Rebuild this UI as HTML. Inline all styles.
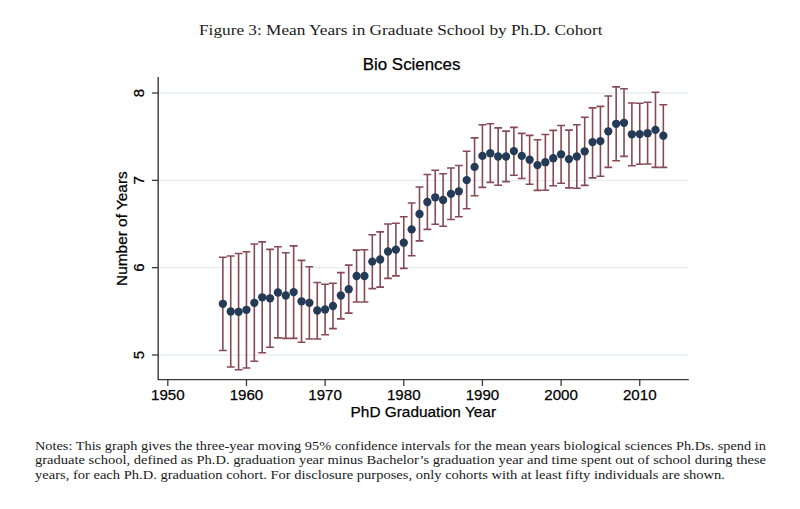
<!DOCTYPE html>
<html><head><meta charset="utf-8"><style>
html,body{margin:0;padding:0;background:#fff;}
body{width:800px;height:509px;position:relative;overflow:hidden;}
.cap{position:absolute;left:199px;top:20.8px;font-family:"Liberation Serif",serif;font-size:15.2px;line-height:18px;color:#1a1a1a;white-space:nowrap;}
.cap span{display:inline-block;transform-origin:0 0;transform:scaleX(1.136);}
.notes{position:absolute;left:35px;top:438.8px;font-family:"Liberation Serif",serif;font-size:13.1px;line-height:14.45px;color:#1a1a1a;}
.notes span{display:block;white-space:nowrap;transform-origin:0 0;height:14.4px;}
.l1{transform:scaleX(1.094);}
.l2{transform:scaleX(1.108);}
.l3{transform:scaleX(1.109);}
</style></head><body>
<div class="cap"><span>Figure 3: Mean Years in Graduate School by Ph.D. Cohort</span></div>
<svg width="800" height="509" viewBox="0 0 800 509" style="position:absolute;left:0;top:0"><line x1="159.00" y1="355.00" x2="687.80" y2="355.00" stroke="#e8eeee" stroke-width="1.4"/><line x1="159.00" y1="267.67" x2="687.80" y2="267.67" stroke="#e8eeee" stroke-width="1.4"/><line x1="159.00" y1="180.33" x2="687.80" y2="180.33" stroke="#e8eeee" stroke-width="1.4"/><line x1="159.00" y1="93.00" x2="687.80" y2="93.00" stroke="#e8eeee" stroke-width="1.4"/><path d="M222.86 257.20V350.50M218.96 257.20H226.76M218.96 350.50H226.76" stroke="#874a54" stroke-width="1.6" fill="none"/><path d="M230.73 256.00V367.00M226.83 256.00H234.63M226.83 367.00H234.63" stroke="#874a54" stroke-width="1.6" fill="none"/><path d="M238.59 253.50V369.70M234.69 253.50H242.49M234.69 369.70H242.49" stroke="#874a54" stroke-width="1.6" fill="none"/><path d="M246.46 251.80V368.00M242.56 251.80H250.36M242.56 368.00H250.36" stroke="#874a54" stroke-width="1.6" fill="none"/><path d="M254.32 244.00V361.30M250.42 244.00H258.22M250.42 361.30H258.22" stroke="#874a54" stroke-width="1.6" fill="none"/><path d="M262.19 241.90V352.80M258.29 241.90H266.09M258.29 352.80H266.09" stroke="#874a54" stroke-width="1.6" fill="none"/><path d="M270.06 249.40V347.20M266.16 249.40H273.96M266.16 347.20H273.96" stroke="#874a54" stroke-width="1.6" fill="none"/><path d="M277.92 246.70V337.90M274.02 246.70H281.82M274.02 337.90H281.82" stroke="#874a54" stroke-width="1.6" fill="none"/><path d="M285.79 252.80V338.40M281.89 252.80H289.69M281.89 338.40H289.69" stroke="#874a54" stroke-width="1.6" fill="none"/><path d="M293.65 245.90V338.40M289.75 245.90H297.55M289.75 338.40H297.55" stroke="#874a54" stroke-width="1.6" fill="none"/><path d="M301.52 260.40V342.30M297.62 260.40H305.42M297.62 342.30H305.42" stroke="#874a54" stroke-width="1.6" fill="none"/><path d="M309.38 266.70V339.00M305.49 266.70H313.28M305.49 339.00H313.28" stroke="#874a54" stroke-width="1.6" fill="none"/><path d="M317.25 282.50V339.00M313.35 282.50H321.15M313.35 339.00H321.15" stroke="#874a54" stroke-width="1.6" fill="none"/><path d="M325.12 284.20V334.80M321.22 284.20H329.02M321.22 334.80H329.02" stroke="#874a54" stroke-width="1.6" fill="none"/><path d="M332.98 283.30V328.60M329.08 283.30H336.88M329.08 328.60H336.88" stroke="#874a54" stroke-width="1.6" fill="none"/><path d="M340.85 272.60V318.90M336.95 272.60H344.75M336.95 318.90H344.75" stroke="#874a54" stroke-width="1.6" fill="none"/><path d="M348.71 265.10V313.10M344.81 265.10H352.61M344.81 313.10H352.61" stroke="#874a54" stroke-width="1.6" fill="none"/><path d="M356.58 250.10V302.00M352.68 250.10H360.48M352.68 302.00H360.48" stroke="#874a54" stroke-width="1.6" fill="none"/><path d="M364.45 249.70V302.00M360.55 249.70H368.35M360.55 302.00H368.35" stroke="#874a54" stroke-width="1.6" fill="none"/><path d="M372.31 234.70V288.60M368.41 234.70H376.21M368.41 288.60H376.21" stroke="#874a54" stroke-width="1.6" fill="none"/><path d="M380.18 231.90V287.10M376.28 231.90H384.08M376.28 287.10H384.08" stroke="#874a54" stroke-width="1.6" fill="none"/><path d="M388.04 224.00V278.40M384.14 224.00H391.94M384.14 278.40H391.94" stroke="#874a54" stroke-width="1.6" fill="none"/><path d="M395.91 223.30V275.90M392.01 223.30H399.81M392.01 275.90H399.81" stroke="#874a54" stroke-width="1.6" fill="none"/><path d="M403.77 216.70V268.40M399.88 216.70H407.67M399.88 268.40H407.67" stroke="#874a54" stroke-width="1.6" fill="none"/><path d="M411.64 203.00V255.80M407.74 203.00H415.54M407.74 255.80H415.54" stroke="#874a54" stroke-width="1.6" fill="none"/><path d="M419.51 187.00V240.90M415.61 187.00H423.41M415.61 240.90H423.41" stroke="#874a54" stroke-width="1.6" fill="none"/><path d="M427.37 174.50V229.40M423.47 174.50H431.27M423.47 229.40H431.27" stroke="#874a54" stroke-width="1.6" fill="none"/><path d="M435.24 170.30V224.30M431.34 170.30H439.14M431.34 224.30H439.14" stroke="#874a54" stroke-width="1.6" fill="none"/><path d="M443.10 173.70V226.20M439.20 173.70H447.00M439.20 226.20H447.00" stroke="#874a54" stroke-width="1.6" fill="none"/><path d="M450.97 168.00V219.50M447.07 168.00H454.87M447.07 219.50H454.87" stroke="#874a54" stroke-width="1.6" fill="none"/><path d="M458.84 165.50V216.80M454.94 165.50H462.74M454.94 216.80H462.74" stroke="#874a54" stroke-width="1.6" fill="none"/><path d="M466.70 151.30V208.80M462.80 151.30H470.60M462.80 208.80H470.60" stroke="#874a54" stroke-width="1.6" fill="none"/><path d="M474.57 137.90V195.80M470.67 137.90H478.47M470.67 195.80H478.47" stroke="#874a54" stroke-width="1.6" fill="none"/><path d="M482.43 124.70V187.40M478.53 124.70H486.33M478.53 187.40H486.33" stroke="#874a54" stroke-width="1.6" fill="none"/><path d="M490.30 123.80V182.40M486.40 123.80H494.20M486.40 182.40H494.20" stroke="#874a54" stroke-width="1.6" fill="none"/><path d="M498.16 127.90V185.20M494.26 127.90H502.06M494.26 185.20H502.06" stroke="#874a54" stroke-width="1.6" fill="none"/><path d="M506.03 131.10V181.60M502.13 131.10H509.93M502.13 181.60H509.93" stroke="#874a54" stroke-width="1.6" fill="none"/><path d="M513.90 127.40V175.30M510.00 127.40H517.80M510.00 175.30H517.80" stroke="#874a54" stroke-width="1.6" fill="none"/><path d="M521.76 133.40V178.50M517.86 133.40H525.66M517.86 178.50H525.66" stroke="#874a54" stroke-width="1.6" fill="none"/><path d="M529.63 135.40V184.20M525.73 135.40H533.53M525.73 184.20H533.53" stroke="#874a54" stroke-width="1.6" fill="none"/><path d="M537.49 139.80V190.40M533.59 139.80H541.39M533.59 190.40H541.39" stroke="#874a54" stroke-width="1.6" fill="none"/><path d="M545.36 134.50V190.20M541.46 134.50H549.26M541.46 190.20H549.26" stroke="#874a54" stroke-width="1.6" fill="none"/><path d="M553.23 130.40V185.80M549.33 130.40H557.13M549.33 185.80H557.13" stroke="#874a54" stroke-width="1.6" fill="none"/><path d="M561.09 125.50V183.30M557.19 125.50H564.99M557.19 183.30H564.99" stroke="#874a54" stroke-width="1.6" fill="none"/><path d="M568.96 130.10V187.90M565.06 130.10H572.86M565.06 187.90H572.86" stroke="#874a54" stroke-width="1.6" fill="none"/><path d="M576.82 124.70V188.30M572.92 124.70H580.72M572.92 188.30H580.72" stroke="#874a54" stroke-width="1.6" fill="none"/><path d="M584.69 117.30V185.40M580.79 117.30H588.59M580.79 185.40H588.59" stroke="#874a54" stroke-width="1.6" fill="none"/><path d="M592.56 107.90V177.90M588.66 107.90H596.46M588.66 177.90H596.46" stroke="#874a54" stroke-width="1.6" fill="none"/><path d="M600.42 106.40V176.20M596.52 106.40H604.32M596.52 176.20H604.32" stroke="#874a54" stroke-width="1.6" fill="none"/><path d="M608.29 96.00V167.40M604.39 96.00H612.19M604.39 167.40H612.19" stroke="#874a54" stroke-width="1.6" fill="none"/><path d="M616.15 86.90V160.80M612.25 86.90H620.05M612.25 160.80H620.05" stroke="#874a54" stroke-width="1.6" fill="none"/><path d="M624.02 88.80V156.40M620.12 88.80H627.92M620.12 156.40H627.92" stroke="#874a54" stroke-width="1.6" fill="none"/><path d="M631.88 103.00V165.80M627.98 103.00H635.78M627.98 165.80H635.78" stroke="#874a54" stroke-width="1.6" fill="none"/><path d="M639.75 103.30V164.20M635.85 103.30H643.65M635.85 164.20H643.65" stroke="#874a54" stroke-width="1.6" fill="none"/><path d="M647.62 102.30V164.00M643.72 102.30H651.52M643.72 164.00H651.52" stroke="#874a54" stroke-width="1.6" fill="none"/><path d="M655.48 92.30V167.40M651.58 92.30H659.38M651.58 167.40H659.38" stroke="#874a54" stroke-width="1.6" fill="none"/><path d="M663.35 104.80V167.40M659.45 104.80H667.25M659.45 167.40H667.25" stroke="#874a54" stroke-width="1.6" fill="none"/><circle cx="222.86" cy="303.80" r="4.15" fill="#253a57"/><circle cx="230.73" cy="311.50" r="4.15" fill="#253a57"/><circle cx="238.59" cy="311.80" r="4.15" fill="#253a57"/><circle cx="246.46" cy="309.80" r="4.15" fill="#253a57"/><circle cx="254.32" cy="302.80" r="4.15" fill="#253a57"/><circle cx="262.19" cy="297.30" r="4.15" fill="#253a57"/><circle cx="270.06" cy="298.30" r="4.15" fill="#253a57"/><circle cx="277.92" cy="292.50" r="4.15" fill="#253a57"/><circle cx="285.79" cy="295.50" r="4.15" fill="#253a57"/><circle cx="293.65" cy="292.10" r="4.15" fill="#253a57"/><circle cx="301.52" cy="301.30" r="4.15" fill="#253a57"/><circle cx="309.38" cy="302.80" r="4.15" fill="#253a57"/><circle cx="317.25" cy="310.50" r="4.15" fill="#253a57"/><circle cx="325.12" cy="309.50" r="4.15" fill="#253a57"/><circle cx="332.98" cy="306.00" r="4.15" fill="#253a57"/><circle cx="340.85" cy="295.50" r="4.15" fill="#253a57"/><circle cx="348.71" cy="289.20" r="4.15" fill="#253a57"/><circle cx="356.58" cy="276.00" r="4.15" fill="#253a57"/><circle cx="364.45" cy="276.00" r="4.15" fill="#253a57"/><circle cx="372.31" cy="261.60" r="4.15" fill="#253a57"/><circle cx="380.18" cy="259.50" r="4.15" fill="#253a57"/><circle cx="388.04" cy="251.50" r="4.15" fill="#253a57"/><circle cx="395.91" cy="249.60" r="4.15" fill="#253a57"/><circle cx="403.77" cy="242.70" r="4.15" fill="#253a57"/><circle cx="411.64" cy="229.40" r="4.15" fill="#253a57"/><circle cx="419.51" cy="214.00" r="4.15" fill="#253a57"/><circle cx="427.37" cy="202.00" r="4.15" fill="#253a57"/><circle cx="435.24" cy="197.30" r="4.15" fill="#253a57"/><circle cx="443.10" cy="200.00" r="4.15" fill="#253a57"/><circle cx="450.97" cy="193.90" r="4.15" fill="#253a57"/><circle cx="458.84" cy="191.30" r="4.15" fill="#253a57"/><circle cx="466.70" cy="180.10" r="4.15" fill="#253a57"/><circle cx="474.57" cy="166.90" r="4.15" fill="#253a57"/><circle cx="482.43" cy="155.90" r="4.15" fill="#253a57"/><circle cx="490.30" cy="153.20" r="4.15" fill="#253a57"/><circle cx="498.16" cy="156.50" r="4.15" fill="#253a57"/><circle cx="506.03" cy="156.50" r="4.15" fill="#253a57"/><circle cx="513.90" cy="151.10" r="4.15" fill="#253a57"/><circle cx="521.76" cy="155.90" r="4.15" fill="#253a57"/><circle cx="529.63" cy="159.70" r="4.15" fill="#253a57"/><circle cx="537.49" cy="165.10" r="4.15" fill="#253a57"/><circle cx="545.36" cy="162.20" r="4.15" fill="#253a57"/><circle cx="553.23" cy="158.20" r="4.15" fill="#253a57"/><circle cx="561.09" cy="154.30" r="4.15" fill="#253a57"/><circle cx="568.96" cy="159.10" r="4.15" fill="#253a57"/><circle cx="576.82" cy="156.50" r="4.15" fill="#253a57"/><circle cx="584.69" cy="151.30" r="4.15" fill="#253a57"/><circle cx="592.56" cy="142.10" r="4.15" fill="#253a57"/><circle cx="600.42" cy="141.10" r="4.15" fill="#253a57"/><circle cx="608.29" cy="131.30" r="4.15" fill="#253a57"/><circle cx="616.15" cy="123.80" r="4.15" fill="#253a57"/><circle cx="624.02" cy="122.80" r="4.15" fill="#253a57"/><circle cx="631.88" cy="134.30" r="4.15" fill="#253a57"/><circle cx="639.75" cy="134.10" r="4.15" fill="#253a57"/><circle cx="647.62" cy="133.20" r="4.15" fill="#253a57"/><circle cx="655.48" cy="129.90" r="4.15" fill="#253a57"/><circle cx="663.35" cy="135.70" r="4.15" fill="#253a57"/><path d="M158.20 77.00V379.60H688.80" stroke="#3a3a3a" stroke-width="1.4" fill="none"/><line x1="151.90" y1="355.00" x2="158.20" y2="355.00" stroke="#3a3a3a" stroke-width="1.3"/><text x="0" y="0" transform="translate(144.2 355.00) rotate(-90)" text-anchor="middle" font-family="Liberation Sans" font-size="15.1" fill="#000" stroke="#000" stroke-width="0.25">5</text><line x1="151.90" y1="267.67" x2="158.20" y2="267.67" stroke="#3a3a3a" stroke-width="1.3"/><text x="0" y="0" transform="translate(144.2 267.67) rotate(-90)" text-anchor="middle" font-family="Liberation Sans" font-size="15.1" fill="#000" stroke="#000" stroke-width="0.25">6</text><line x1="151.90" y1="180.33" x2="158.20" y2="180.33" stroke="#3a3a3a" stroke-width="1.3"/><text x="0" y="0" transform="translate(144.2 180.33) rotate(-90)" text-anchor="middle" font-family="Liberation Sans" font-size="15.1" fill="#000" stroke="#000" stroke-width="0.25">7</text><line x1="151.90" y1="93.00" x2="158.20" y2="93.00" stroke="#3a3a3a" stroke-width="1.3"/><text x="0" y="0" transform="translate(144.2 93.00) rotate(-90)" text-anchor="middle" font-family="Liberation Sans" font-size="15.1" fill="#000" stroke="#000" stroke-width="0.25">8</text><line x1="167.80" y1="379.60" x2="167.80" y2="386.00" stroke="#3a3a3a" stroke-width="1.3"/><text x="167.80" y="400.1" text-anchor="middle" font-family="Liberation Sans" font-size="15.1" fill="#000" stroke="#000" stroke-width="0.25">1950</text><line x1="246.46" y1="379.60" x2="246.46" y2="386.00" stroke="#3a3a3a" stroke-width="1.3"/><text x="246.46" y="400.1" text-anchor="middle" font-family="Liberation Sans" font-size="15.1" fill="#000" stroke="#000" stroke-width="0.25">1960</text><line x1="325.12" y1="379.60" x2="325.12" y2="386.00" stroke="#3a3a3a" stroke-width="1.3"/><text x="325.12" y="400.1" text-anchor="middle" font-family="Liberation Sans" font-size="15.1" fill="#000" stroke="#000" stroke-width="0.25">1970</text><line x1="403.77" y1="379.60" x2="403.77" y2="386.00" stroke="#3a3a3a" stroke-width="1.3"/><text x="403.77" y="400.1" text-anchor="middle" font-family="Liberation Sans" font-size="15.1" fill="#000" stroke="#000" stroke-width="0.25">1980</text><line x1="482.43" y1="379.60" x2="482.43" y2="386.00" stroke="#3a3a3a" stroke-width="1.3"/><text x="482.43" y="400.1" text-anchor="middle" font-family="Liberation Sans" font-size="15.1" fill="#000" stroke="#000" stroke-width="0.25">1990</text><line x1="561.09" y1="379.60" x2="561.09" y2="386.00" stroke="#3a3a3a" stroke-width="1.3"/><text x="561.09" y="400.1" text-anchor="middle" font-family="Liberation Sans" font-size="15.1" fill="#000" stroke="#000" stroke-width="0.25">2000</text><line x1="639.75" y1="379.60" x2="639.75" y2="386.00" stroke="#3a3a3a" stroke-width="1.3"/><text x="639.75" y="400.1" text-anchor="middle" font-family="Liberation Sans" font-size="15.1" fill="#000" stroke="#000" stroke-width="0.25">2010</text><text x="423.3" y="416.7" text-anchor="middle" font-family="Liberation Sans" font-size="15.4" fill="#000" stroke="#000" stroke-width="0.25">PhD Graduation Year</text><text x="0" y="0" transform="translate(126.9 228.6) rotate(-90)" text-anchor="middle" font-family="Liberation Sans" font-size="15.4" fill="#000" stroke="#000" stroke-width="0.25">Number of Years</text><text x="411.6" y="69.5" text-anchor="middle" font-family="Liberation Sans" font-size="16.9" fill="#000" stroke="#000" stroke-width="0.25">Bio Sciences</text></svg>
<div class="notes"><span class="l1">Notes: This graph gives the three-year moving 95% confidence intervals for the mean years biological sciences Ph.Ds. spend in</span><span class="l2">graduate school, defined as Ph.D. graduation year minus Bachelor’s graduation year and time spent out of school during these</span><span class="l3">years, for each Ph.D. graduation cohort. For disclosure purposes, only cohorts with at least fifty individuals are shown.</span></div>
</body></html>
